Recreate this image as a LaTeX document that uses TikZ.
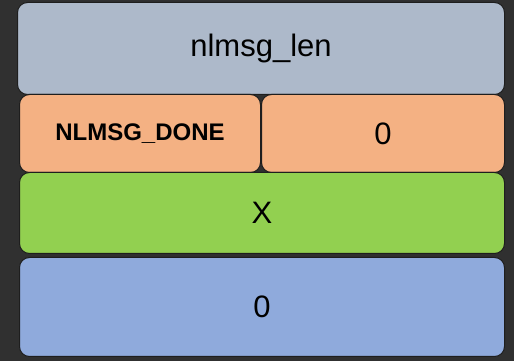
\documentclass[tikz,border=0pt]{standalone}
\usepackage{fontspec}
\setmainfont{Liberation Sans}
\definecolor{bg}{HTML}{303030}
\definecolor{cgray}{HTML}{ADB9CA}
\definecolor{corange}{HTML}{F4B183}
\definecolor{cgreen}{HTML}{92D050}
\definecolor{cblue}{HTML}{8FAADC}
\definecolor{edge}{HTML}{1E1E1E}
\begin{document}
\begin{tikzpicture}[x=1pt,y=1pt,
  cell/.style={draw=edge, line width=1pt, rounded corners=10pt, inner sep=0pt, anchor=south west, font=\fontsize{31}{34}\selectfont, text=black}]
\fill[bg] (0,0) rectangle (514,361);
\useasboundingbox (0,0) rectangle (514,361);
\node[cell, fill=cgray, minimum width=487pt, minimum height=92pt] (len) at (17,266) {nlmsg\_len};
\node[cell, fill=corange, minimum width=241pt, minimum height=78pt, font=\fontsize{24}{27}\selectfont\bfseries] (type) at (19,188) {NLMSG\_DONE};
\node[cell, fill=corange, minimum width=243pt, minimum height=78pt] (flags) at (261,188) {0};
\node[cell, fill=cgreen, minimum width=485pt, minimum height=81pt] (x) at (19,107) {X};
\node[cell, fill=cblue, minimum width=485pt, minimum height=99pt] (zero) at (19,4) {0};
\end{tikzpicture}
\end{document}
